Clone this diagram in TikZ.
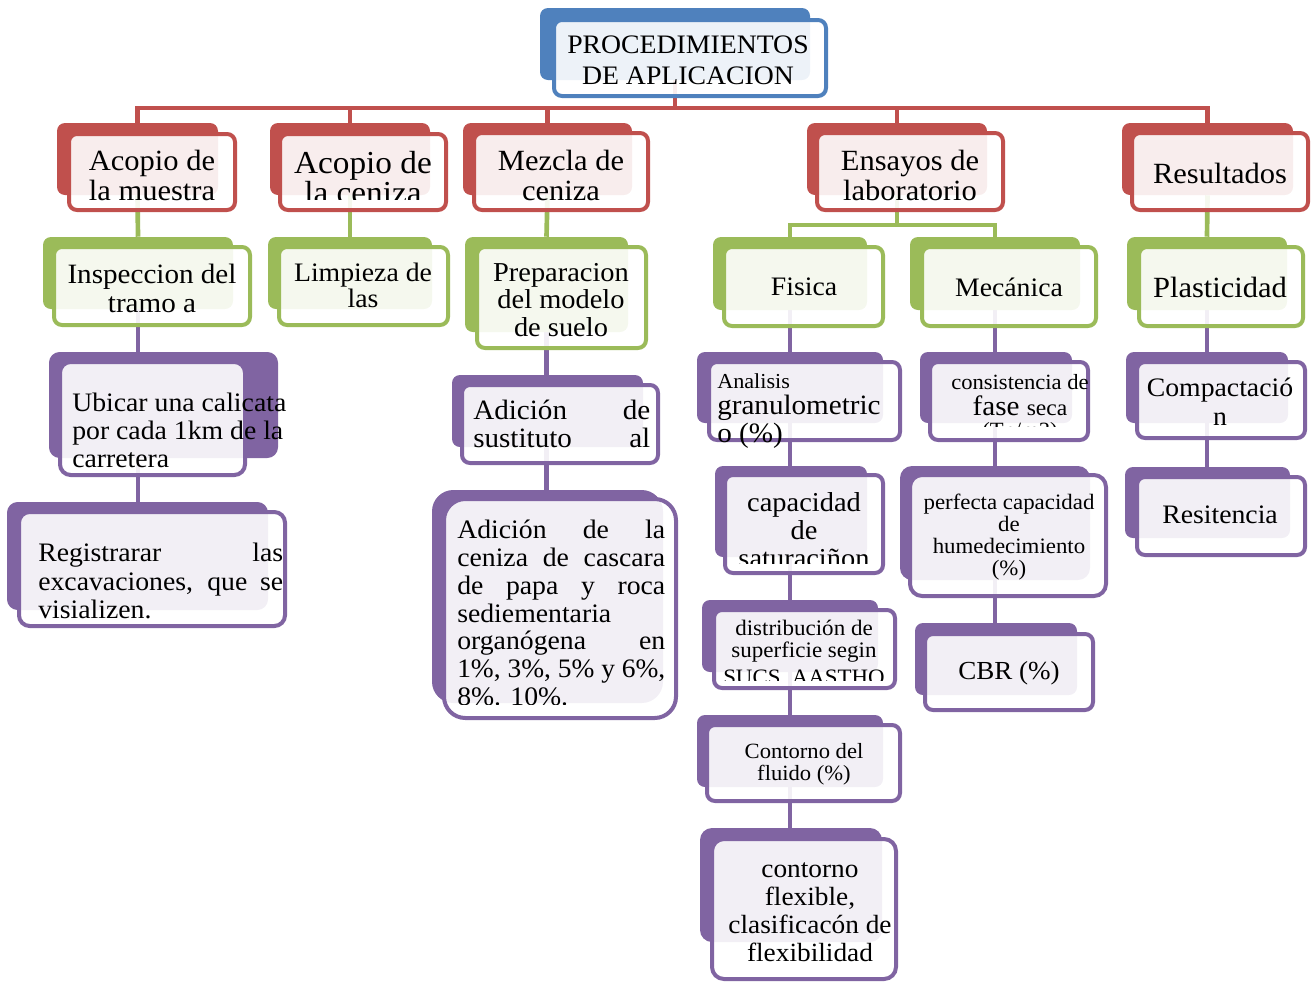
\documentclass[tikz,border=0pt]{standalone}
\usepackage{fontspec}
\setmainfont[FakeStretch=1.04]{Liberation Serif}
\usepackage{graphicx}
\usepackage{tikz}
\usetikzlibrary{positioning, fit, backgrounds}

\newcommand{\fsz}[2]{\fontsize{#1}{#2}\selectfont}

\begin{document}
\begin{tikzpicture}[x=0.75pt, y=-0.75pt,
    bk/.style={fill=#1, rounded corners=6pt, inner sep=0pt},
    fr/.style={draw=#1, line width=3pt, fill=white, fill opacity=0.9, rounded corners=6pt, inner sep=0pt},
    lnk/.style={draw=#1, line width=3.5pt},
    txt/.style={inner sep=0pt, align=center, text=black}]

% --- COLOURS ---
\definecolor{cblue}{RGB}{79, 129, 189}     % top box
\definecolor{cred}{RGB}{192, 80, 77}       % procedures
\definecolor{cgreen}{RGB}{155, 187, 89}    % second level
\definecolor{cpurple}{RGB}{128, 100, 162}  % details

\useasboundingbox (0,0) rectangle (1311,982);

% --- TOP BOX ---
\node[bk=cblue, fit={(540,8) (810,80)}] (top) {};
\node[fr=cblue, fit={(554,20) (826,96)}] (top-f) {};
\node[txt, font=\fsz{20}{23.25}] (top-t) at (688,60) {PROCEDIMIENTOS\\DE APLICACION};

% --- FIRST LEVEL (red) ---
\node[bk=cred, fit={(57,123) (218,195)}] (acm) {};
\node[fr=cred, fit={(69,134) (235,210)}] (acm-f) {};
\node[txt, font=\fsz{22}{22.5}] (acm-t) at (152,175) {Acopio de\\la muestra};

\node[bk=cred, fit={(270,123) (430,195)}] (acc) {};
\node[fr=cred, fit={(280,134) (446,210)}] (acc-f) {};
\begin{scope}
    \clip (280,134) rectangle (446,199);
    \node[txt, font=\fsz{24}{22.5}] (acc-t) at (363,178) {Acopio de\\la ceniza};
\end{scope}

\node[bk=cred, fit={(463,123) (632,195)}] (mez) {};
\node[fr=cred, fit={(474,133) (648,210)}] (mez-f) {};
\node[txt, font=\fsz{22}{22.5}] (mez-t) at (561,175) {Mezcla de\\ceniza};

\node[bk=cred, fit={(807,123) (987,195)}] (ens) {};
\node[fr=cred, fit={(817,133) (1003,210)}] (ens-f) {};
\node[txt, font=\fsz{22}{22.5}] (ens-t) at (910,175) {Ensayos de\\laboratorio};

\node[bk=cred, fit={(1122,123) (1293,195)}] (res) {};
\node[fr=cred, fit={(1132,133) (1308,210)}] (res-f) {};
\node[txt, font=\fsz{22}{22.5}] (res-t) at (1220,173) {Resultados};

% --- SECOND LEVEL (green) ---
\node[bk=cgreen, fit={(43,237) (233,309)}] (insp) {};
\node[fr=cgreen, fit={(54,247) (250,325)}] (insp-f) {};
\node[txt, font=\fsz{21}{21.75}] (insp-t) at (152,288) {Inspeccion del\\tramo a};

\node[bk=cgreen, fit={(268,237) (432,309)}] (limp) {};
\node[fr=cgreen, fit={(279,247) (448,325)}] (limp-f) {};
\node[txt, font=\fsz{20}{19.5}] (limp-t) at (363,285) {Limpieza de\\las};

\node[bk=cgreen, fit={(465,237) (628,332)}] (prep) {};
\node[fr=cgreen, fit={(477,247) (646,348)}] (prep-f) {};
\node[txt, font=\fsz{20.5}{20.6}] (prep-t) at (561,300) {Preparacion\\del modelo\\de suelo};

\node[bk=cgreen, fit={(713,237) (867,310)}] (fis) {};
\node[fr=cgreen, fit={(724,247) (883,326)}] (fis-f) {};
\node[txt, font=\fsz{20}{21}] (fis-t) at (804,287) {Fisica};

\node[bk=cgreen, fit={(910,237) (1080,310)}] (mec) {};
\node[fr=cgreen, fit={(922,247) (1096,326)}] (mec-f) {};
\node[txt, font=\fsz{20}{21}] (mec-t) at (1009,287) {Mecánica};

\node[bk=cgreen, fit={(1127,237) (1287,310)}] (plas) {};
\node[fr=cgreen, fit={(1139,247) (1303,326)}] (plas-f) {};
\node[txt, font=\fsz{22}{22.5}] (plas-t) at (1220,287) {Plasticidad};

% --- DETAILS (purple), left columns ---
\node[bk=cpurple, fit={(49,352) (278,458)}, rounded corners=8pt] (ubi) {};
\node[fr=cpurple, fit={(60,362) (245,475)}, rounded corners=8pt] (ubi-f) {};
\node[txt, align=left, anchor=west, font=\fsz{20}{21}] (ubi-t) at (72,430)
    {Ubicar una calicata\\por cada 1km de la\\carretera};

\node[bk=cpurple, fit={(7,502) (268,610)}, rounded corners=8pt] (reg) {};
\node[fr=cpurple, fit={(19,512) (285,626)}, rounded corners=8pt] (reg-f) {};
\node[txt, align=left, anchor=west, font=\fsz{20}{21.4}] (reg-t) at (38,581)
    {\makebox[183.75pt][s]{Registrarar las}\\\makebox[183.75pt][s]{excavaciones, que se}\\visializen.};

\node[bk=cpurple, fit={(452,375) (643,447)}] (adsus) {};
\node[fr=cpurple, fit={(462,385) (658,463)}] (adsus-f) {};
\node[txt, align=left, anchor=west, font=\fsz{21}{21}] (adsus-t) at (473,424)
    {\makebox[132.75pt][s]{Adición de}\\\makebox[132.75pt][s]{sustituto al}};

\node[bk=cpurple, fit={(432,490) (663,703)}, rounded corners=16pt] (adcen) {};
\node[fr=cpurple, fit={(444,499) (676,718)}, rounded corners=16pt] (adcen-f) {};
\begin{scope}
    \clip (440,499) rectangle (690,704);
    \node[txt, align=left, anchor=west, font=\fsz{20}{20.9}] (adcen-t) at (457,613)
        {\makebox[156pt][s]{Adición de la}\\\makebox[156pt][s]{ceniza de cascara}\\
         \makebox[156pt][s]{de papa y roca}\\sediementaria\\
         \makebox[156pt][s]{organógena en}\\\resizebox{156pt}{\height}{1\%, 3\%, 5\% y 6\%,}\\8\%. 10\%.};
\end{scope}

% --- DETAILS (purple), Fisica column ---
\node[bk=cpurple, fit={(697,352) (883,423)}] (anal) {};
\node[fr=cpurple, fit={(709,362) (900,440)}] (anal-f) {};
\node[txt, anchor=base west, font=\fsz{16}{16}] (anal-t1) at (717,388) {Analisis};
\node[txt, anchor=base west, font=\fsz{21}{21}] (anal-t2) at (717,414) {granulometric};
\node[txt, anchor=base west, font=\fsz{21}{21}] (anal-t3) at (717,442) {o (\%)};

\node[bk=cpurple, fit={(715,466) (867,557)}] (capsat) {};
\node[fr=cpurple, fit={(725,475) (883,573)}] (capsat-f) {};
\begin{scope}
    \clip (725,475) rectangle (883,563);
    \node[txt, font=\fsz{20.5}{21}] (capsat-t) at (804,530) {capacidad\\de\\saturaciñon};
\end{scope}

\node[bk=cpurple, fit={(702,600) (878,672)}] (dist) {};
\node[fr=cpurple, fit={(714,610) (895,688)}] (dist-f) {};
\begin{scope}
    \clip (714,610) rectangle (895,680);
    \node[txt, font=\fsz{16.6}{16.5}] (dist-t1) at (804,641) {distribución de\\superficie segin};
    \node[txt, anchor=base, font=\fsz{16.5}{16.5}] (dist-t2) at (804,684) {SUCS, AASTHO};
\end{scope}

\node[bk=cpurple, fit={(697,715) (883,787)}] (cflu) {};
\node[fr=cpurple, fit={(707,725) (900,801)}] (cflu-f) {};
\node[txt, font=\fsz{16.3}{16.5}] (cflu-t) at (804,764) {Contorno del\\fluido (\%)};

\node[bk=cpurple, fit={(700,828) (882,942)}, rounded corners=9pt] (cflex) {};
\node[fr=cpurple, fit={(712,839) (896,979)}, rounded corners=9pt] (cflex-f) {};
\node[txt, font=\fsz{19.7}{21}] (cflex-t) at (810,912) {contorno\\flexible,\\clasificacón de\\flexibilidad};

% --- DETAILS (purple), Mecanica column ---
\node[bk=cpurple, fit={(920,352) (1072,423)}] (cons) {};
\node[fr=cpurple, fit={(930,362) (1088,440)}] (cons-f) {};
\begin{scope}
    \clip (926,362) rectangle (1095,426);
    \node[txt, anchor=base, font=\fsz{16.3}{16.3}] (cons-t1) at (1020,389) {consistencia de};
    \node[txt, anchor=base] (cons-t2) at (1020,415) {\fsz{21}{21}fase \fsz{17}{17}seca};
    \node[txt, anchor=base, font=\fsz{16.3}{16.3}] (cons-t3) at (1020,437) {(Tn/m3)};
\end{scope}

\node[bk=cpurple, fit={(900,466) (1090,580)}, rounded corners=9pt] (perf) {};
\node[fr=cpurple, fit={(910,475) (1106,596)}, rounded corners=9pt] (perf-f) {};
\node[txt, font=\fsz{16.5}{16.5}] (perf-t) at (1009,537) {perfecta capacidad\\de\\humedecimiento\\(\%)};

\node[bk=cpurple, fit={(915,623) (1077,695)}] (cbr) {};
\node[fr=cpurple, fit={(925,634) (1093,710)}] (cbr-f) {};
\node[txt, font=\fsz{19.5}{20}] (cbr-t) at (1009,673) {CBR (\%)};

% --- DETAILS (purple), Resultados column ---
\node[bk=cpurple, fit={(1126,352) (1288,423)}] (comp) {};
\node[fr=cpurple, fit={(1137,362) (1305,438)}] (comp-f) {};
\node[txt, font=\fsz{20}{21.75}] (comp-t) at (1220,402) {Compactació\\n};

\node[bk=cpurple, fit={(1125,467) (1290,538)}] (resi) {};
\node[fr=cpurple, fit={(1137,477) (1305,555)}] (resi-f) {};
\node[txt, font=\fsz{20}{21}] (resi-t) at (1220,515) {Resitencia};

% --- CONNECTORS ---
\coordinate (bus) at (0,108);
\coordinate (gbus) at (0,225);
\begin{pgfonlayer}{background}
    \draw[lnk=cred] (top.south) -- (top.south |- bus);
    \foreach \c in {acm, acc, mez, ens, res}
        \draw[lnk=cred] (top.south |- bus) -| (\c.north);

    \draw[lnk=cgreen] (acm.south) -- (insp.north);
    \draw[lnk=cgreen] (acc.south) -- (limp.north);
    \draw[lnk=cgreen] (mez.south) -- (prep.north);
    \draw[lnk=cgreen] (res.south) -- (plas.north);
    \draw[lnk=cgreen] (ens.south) -- (ens.south |- gbus);
    \foreach \c in {fis, mec}
        \draw[lnk=cgreen] (ens.south |- gbus) -| (\c.north);

    \draw[lnk=cpurple] (insp.south) -- (insp.south |- reg.north);
    \draw[lnk=cpurple] (prep.south) -- (prep.south |- adcen.north);
    \draw[lnk=cpurple] (fis.south) -- (fis.south |- cflex.north);
    \draw[lnk=cpurple] (mec.south) -- (mec.south |- cbr.north);
    \draw[lnk=cpurple] (plas.south) -- (plas.south |- resi.north);
\end{pgfonlayer}

\end{tikzpicture}
\end{document}
